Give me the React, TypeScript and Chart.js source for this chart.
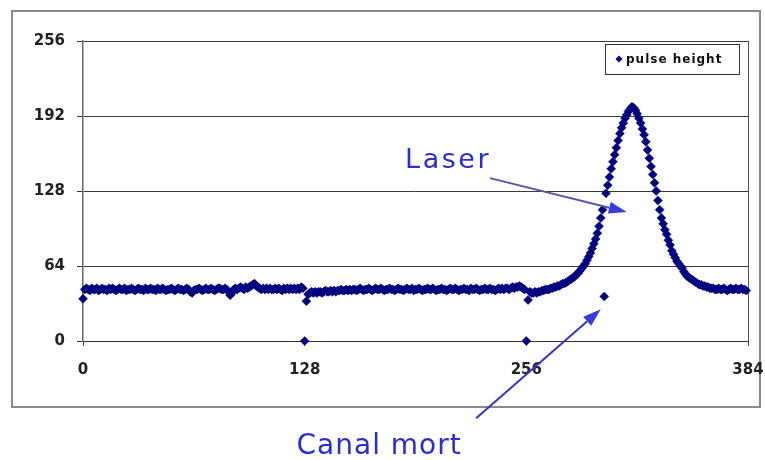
import React, { useEffect, useRef } from "react";
import { Chart, registerables } from "chart.js";

Chart.register(...registerables);

// ---- data ----
const X_TICKS = [0, 128, 256, 384];
const Y_TICKS = [0, 64, 128, 192, 256];
const SERIES_LABEL = "pulse height";

// channels 0..127
const pulseCh0to127 = [
  36,
  44, 45, 44, 43, 45, 44, 44, 45, 43, 44, 45, 44, 44, 43, 45, 44, 45, 44, 43, 44,
  45, 44, 44, 45, 43, 44, 44, 45, 44, 43, 44, 45, 44, 44, 43, 45, 44, 44, 45, 44,
  44, 43, 45, 44, 44, 45, 44, 43, 44, 44, 45, 44, 43, 44, 45, 44, 44, 43, 44, 45,
  44, 42, 41, 43, 44, 44, 45, 44, 43, 44, 45, 44, 44, 45, 44, 43, 44, 45, 45, 44,
  44, 45, 44, 42, 39, 41, 44, 45, 44, 45, 46, 45, 44, 46, 45, 46, 47, 48, 49, 47,
  46, 45, 44, 45, 44, 45, 44, 45, 44, 44, 45, 44, 45, 44, 43, 45, 44, 45, 44, 45,
  44, 45, 44, 45, 44, 46, 45,
];

// channels 128..255
const pulseCh128to255 = [
  0, 34,
  40, 41, 42, 41, 42, 41, 42, 42, 41, 42, 43, 42, 42, 43, 42, 43, 42, 43, 43, 44, 43,
  43, 44, 43, 44, 43, 44, 44, 43, 44, 45, 44, 43, 44, 44, 45, 44, 43, 44, 45, 44,
  44, 45, 44, 43, 44, 44, 45, 44, 44, 43, 44, 45, 44, 44, 43, 44, 45, 44, 44, 45,
  43, 44, 44, 45, 44, 43, 44, 44, 45, 44,
  44, 45, 44, 43, 44, 44, 45, 44, 44, 43, 44, 45, 44, 44, 45, 44, 43, 44, 44, 45,
  44, 44, 43, 45, 44, 44, 45, 44, 43, 44, 44, 45, 44, 44, 45, 44, 44, 43, 44, 45,
  44, 45, 44, 45, 45, 44, 45, 46, 45, 46,
  46, 47, 46, 45, 44,
];

// channels 256..383
const pulseCh256to383 = [
  0, 35,
  42, 41, 41, 42, 41, 42, 42, 43, 43, 44, 44, 44, 45, 45, 46, 46, 47, 47, 48, 49,
  49, 50, 51, 52, 53, 54, 55, 57, 58, 60, 62, 64, 66, 69, 72, 75, 79, 83, 87, 92,
  98, 105, 112,
  38,
  126, 133, 140, 147, 153, 159, 165, 171, 177, 182, 186, 190, 193, 196, 198, 200,
  199, 197, 194, 190, 186, 181, 176, 170, 163, 156, 149, 142, 135, 128, 120, 112,
  105, 100, 95, 91, 86, 82, 77, 74, 71, 68, 66, 64, 62, 59, 57, 55,
  54, 53, 52, 51, 50, 49, 48, 48, 47, 47, 46, 46, 45, 45, 45, 44,
  44, 45, 44, 44, 45, 44, 43, 44, 45, 44, 44, 45, 44, 44, 45, 44, 44, 43,
];

const pulseHeight = [...pulseCh0to127, ...pulseCh128to255, ...pulseCh256to383];

// annotations (in data units)
const laserNote = { text: "Laser", x: 186, y: 148 };
const laserArrow = { from: [235, 139], to: [314, 110] };
const deadNote = { text: "Canal mort", x: 171, y: -96 };
const deadArrow = { from: [227, -66], to: [299, 27] };

const NAVY = "#000080";
const NOTE_BLUE = "#2c2cd4";

function drawArrow(
  ctx: CanvasRenderingContext2D,
  x0: number, y0: number, x1: number, y1: number,
  lineColor: string, headColor: string
) {
  const ang = Math.atan2(y1 - y0, x1 - x0);
  const len = 18, hw = 6;
  const bx = x1 - Math.cos(ang) * len;
  const by = y1 - Math.sin(ang) * len;
  ctx.save();
  ctx.strokeStyle = lineColor;
  ctx.lineWidth = 2;
  ctx.beginPath();
  ctx.moveTo(x0, y0);
  ctx.lineTo(bx, by);
  ctx.stroke();
  ctx.fillStyle = headColor;
  ctx.beginPath();
  ctx.moveTo(x1, y1);
  ctx.lineTo(bx + Math.sin(ang) * hw, by - Math.cos(ang) * hw);
  ctx.lineTo(bx - Math.sin(ang) * hw, by + Math.cos(ang) * hw);
  ctx.closePath();
  ctx.fill();
  ctx.restore();
}

const framePlugin = {
  id: "frame",
  beforeDraw(chart: any) {
    const ctx = chart.ctx as CanvasRenderingContext2D;
    ctx.save();
    ctx.fillStyle = "#ffffff";
    ctx.fillRect(0, 0, chart.width, chart.height);
    ctx.strokeStyle = "#8a8a8a";
    ctx.lineWidth = 2;
    ctx.strokeRect(12, 11, 748, 396);
    ctx.restore();
  },
  beforeDatasetsDraw(chart: any) {
    const ctx = chart.ctx as CanvasRenderingContext2D;
    const a = chart.chartArea;
    ctx.save();
    ctx.strokeStyle = "#555";
    ctx.lineWidth = 1;
    ctx.beginPath();
    ctx.moveTo(Math.round(a.right) + 0.5, a.top);
    ctx.lineTo(Math.round(a.right) + 0.5, a.bottom);
    ctx.stroke();
    ctx.restore();
  },
  afterDraw(chart: any) {
    const ctx = chart.ctx as CanvasRenderingContext2D;
    const a = chart.chartArea;
    const xs = chart.scales.x, ys = chart.scales.y;
    const px = (v: number) => xs.getPixelForValue(v);
    const py = (v: number) => ys.getPixelForValue(v);
    ctx.save();
    // legend box
    const lw = 134, lh = 30;
    const lx = a.right - 9 - lw, ly = a.top + 3;
    ctx.fillStyle = "#fff";
    ctx.fillRect(lx, ly, lw, lh);
    ctx.strokeStyle = "#333";
    ctx.lineWidth = 1;
    ctx.strokeRect(Math.round(lx) + 0.5, Math.round(ly) + 0.5, lw, lh);
    const cy = ly + lh / 2;
    ctx.fillStyle = NAVY;
    ctx.beginPath();
    ctx.moveTo(lx + 14, cy - 3.5);
    ctx.lineTo(lx + 17.5, cy);
    ctx.lineTo(lx + 14, cy + 3.5);
    ctx.lineTo(lx + 10.5, cy);
    ctx.closePath();
    ctx.fill();
    ctx.fillStyle = "#111";
    ctx.font = "bold 12px 'DejaVu Sans'";
    (ctx as any).letterSpacing = "1px";
    ctx.textBaseline = "middle";
    ctx.textAlign = "left";
    ctx.fillText(SERIES_LABEL, lx + 21, cy + 1);
    (ctx as any).letterSpacing = "0px";

    // annotations
    ctx.fillStyle = NOTE_BLUE;
    ctx.textBaseline = "alphabetic";
    ctx.font = "27px 'DejaVu Sans'";
    (ctx as any).letterSpacing = "2.5px";
    ctx.textAlign = "left";
    ctx.fillText(laserNote.text, px(laserNote.x), py(laserNote.y));
    ctx.font = "28px 'DejaVu Sans'";
    (ctx as any).letterSpacing = "1px";
    ctx.textAlign = "center";
    ctx.fillText(deadNote.text, px(deadNote.x), py(deadNote.y));
    (ctx as any).letterSpacing = "0px";
    drawArrow(ctx, px(laserArrow.from[0]), py(laserArrow.from[1]), px(laserArrow.to[0]), py(laserArrow.to[1]), "#5858a8", "#3a3ae0");
    drawArrow(ctx, px(deadArrow.from[0]), py(deadArrow.from[1]), px(deadArrow.to[0]), py(deadArrow.to[1]), "#3434c8", "#3a3ae0");
    ctx.restore();
  },
};

export default function App() {
  const ref = useRef<HTMLCanvasElement | null>(null);
  useEffect(() => {
    document.body.style.margin = "0";
    if (!ref.current) return;
    const points = pulseHeight.map((v, i) => ({ x: i, y: v }));
    const tickFont = { family: "'DejaVu Sans'", size: 15, weight: "bold" as const };
    const chart = new Chart(ref.current, {
      type: "scatter",
      data: {
        datasets: [
          {
            label: SERIES_LABEL,
            data: points,
            pointStyle: "rectRot",
            pointRadius: 4.5,
            pointBorderWidth: 0.5,
            backgroundColor: NAVY,
            borderColor: NAVY,
            showLine: false,
            clip: 6,
          },
        ],
      },
      options: {
        responsive: false,
        animation: false,
        devicePixelRatio: 1,
        layout: { padding: { top: 41, right: 17, bottom: 0, left: 0 } },
        plugins: { legend: { display: false }, tooltip: { enabled: false } },
        scales: {
          x: {
            type: "linear",
            min: 0,
            max: 384,
            afterBuildTicks: (s: any) => { s.ticks = X_TICKS.map((v) => ({ value: v })); },
            afterFit: (s: any) => { s.height = 119; s.paddingRight = 0; s.paddingLeft = 0; },
            grid: { drawOnChartArea: false, drawTicks: true, tickLength: 5, color: "#333" },
            border: { display: true, color: "#333", width: 1 },
            ticks: { font: tickFont, color: "#222", padding: 15, maxRotation: 0, autoSkip: false },
          },
          y: {
            type: "linear",
            min: 0,
            max: 256,
            afterBuildTicks: (s: any) => { s.ticks = Y_TICKS.map((v) => ({ value: v })); },
            afterFit: (s: any) => { s.width = 83; s.paddingTop = 0; s.paddingBottom = 0; },
            grid: { drawOnChartArea: true, drawTicks: true, tickLength: 6, color: "#3a3a3a", lineWidth: 1 },
            border: { display: true, color: "#666", width: 1.5 },
            ticks: { font: tickFont, color: "#222", padding: 12, autoSkip: false },
          },
        },
      },
      plugins: [framePlugin],
    });
    return () => chart.destroy();
  }, []);
  return (
    <div style={{ width: 765, height: 460 }}>
      <canvas ref={ref} width={765} height={460} style={{ display: "block" }} />
    </div>
  );
}
